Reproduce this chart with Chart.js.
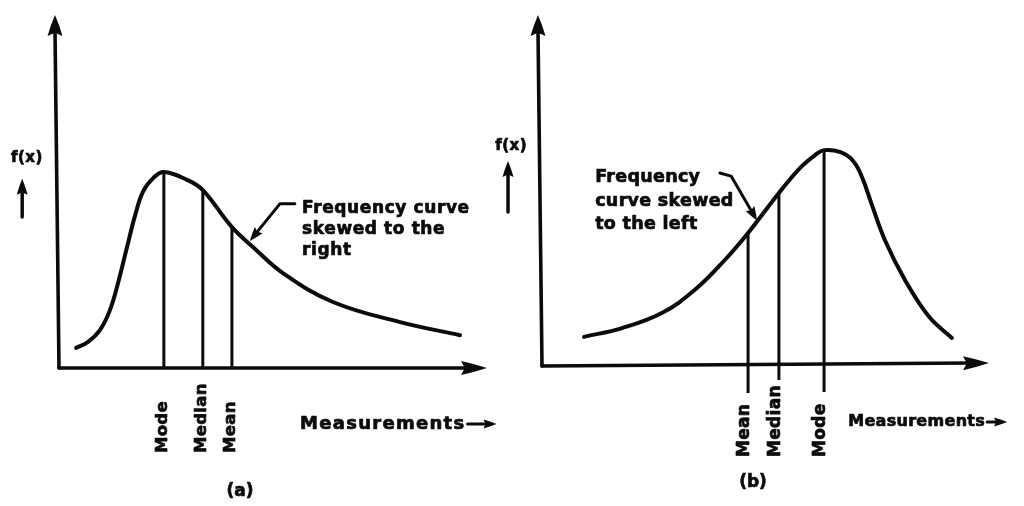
<!DOCTYPE html>
<html>
<head>
<meta charset="utf-8">
<title>Skewed frequency curves</title>
<script src="https://cdn.jsdelivr.net/npm/chart.js@4.4.0/dist/chart.umd.min.js"></script>
<style>
  html, body { margin: 0; padding: 0; background: #fff; }
  #wrap { position: relative; width: 1024px; height: 506px; overflow: hidden; }
  canvas { display: block; position: absolute; top: 0; }
  #panelA { left: 0; }
  #panelB { left: 460px; }
</style>
</head>
<body>
<div id="wrap">
  <canvas id="panelA" width="512" height="506"></canvas>
  <canvas id="panelB" width="564" height="506"></canvas>
</div>
<script>
// ---- (a) frequency curve skewed to the right ----
const rightSkewX = [4.0, 6.8, 9.6, 11.9, 13.8, 15.9, 17.8, 19.6, 22.0, 24.5, 29.9, 33.6, 40.4, 45.3, 52.3, 64.0, 79.7, 93.7];
const rightSkewY = [5.7, 7.4, 10.8, 16.4, 24.1, 34.3, 43.3, 49.9, 53.8, 55.5, 53.3, 50.4, 39.9, 34.3, 26.9, 18.7, 13.0, 9.3];
const rightSkewMarkers = ['Mode', 'Median', 'Mean'];
const rightSkewMarkerX = [24.5, 33.6, 40.4];
const rightSkewMarkerTop = [55.5, 50.4, 39.9];
const rightSkewMarkerBase = [0, 0, 0];

// ---- (b) frequency curve skewed to the left ----
const leftSkewX = [9.4, 17.9, 26.8, 34.2, 40.9, 46.1, 53.0, 57.7, 61.1, 63.1, 66.8, 69.6, 71.6, 73.8, 76.7, 81.2, 86.6, 91.7];
const leftSkewY = [8.3, 10.8, 15.1, 21.7, 30.2, 37.9, 49.3, 56.4, 60.1, 61.5, 60.9, 58.4, 53.8, 45.9, 35.9, 24.5, 14.0, 8.0];
const leftSkewMarkers = ['Mean', 'Median', 'Mode'];
const leftSkewMarkerX = [46.1, 53.0, 63.1];
const leftSkewMarkerTop = [37.9, 49.3, 61.5];
const leftSkewMarkerBase = [-7.7, -4.0, -7.4];

// ---- texts ----
const yAxisTitle = 'f(x)';
const xAxisTitle = 'Measurements';
const panelCaptions = ['(a)', '(b)'];
const rightSkewNote = ['Frequency curve', 'skewed to the', 'right'];
const leftSkewNote = ['Frequency', 'curve skewed', 'to the left'];

const FONT = '"DejaVu Sans", "Liberation Sans", Arial, sans-serif';
const INK = '#0b0b0b';

function arrowHead(ctx, tipX, tipY, angle, len, half) {
  ctx.save();
  ctx.translate(tipX, tipY);
  ctx.rotate(angle);
  ctx.beginPath();
  ctx.moveTo(0, 0);
  ctx.quadraticCurveTo(-len * 0.45, -half * 0.55, -len, -half);
  ctx.lineTo(-len * 0.85, 0);
  ctx.lineTo(-len, half);
  ctx.quadraticCurveTo(-len * 0.45, half * 0.55, 0, 0);
  ctx.closePath();
  ctx.fill();
  ctx.restore();
}

function spaced(ctx, px) {
  if ('letterSpacing' in ctx) ctx.letterSpacing = px + 'px';
}

// heavy ink text: fill plus a thin outline
function inkText(ctx, t, x, y) {
  ctx.save();
  ctx.lineWidth = 0.7;
  ctx.lineJoin = 'round';
  ctx.strokeText(t, x, y);
  ctx.fillText(t, x, y);
  ctx.restore();
}

// Hand-drawn style axes, labels and annotations on top of the datasets
const sketchPlugin = {
  id: 'sketch',
  afterDatasetsDraw(chart, args, o) {
    const ctx = chart.ctx;
    const xs = chart.scales.x, ys = chart.scales.y;
    const px = v => xs.getPixelForValue(v);
    const py = v => ys.getPixelForValue(v);
    const ox = px(0), oy = py(0);
    ctx.save();
    ctx.strokeStyle = INK;
    ctx.fillStyle = INK;
    ctx.lineCap = 'round';
    ctx.lineJoin = 'round';

    // x axis
    ctx.lineWidth = 3.6;
    ctx.beginPath();
    ctx.moveTo(ox, oy);
    ctx.lineTo(xs.right - 18, oy + o.tilt);
    ctx.stroke();
    arrowHead(ctx, xs.right, oy + o.tilt, Math.atan2(o.tilt, xs.right - ox), 26, 7);

    // y axis
    ctx.beginPath();
    ctx.moveTo(ox, oy);
    ctx.lineTo(ox + o.lean, ys.top + 16);
    ctx.stroke();
    arrowHead(ctx, ox + o.lean, ys.top, -Math.PI / 2, 21, 7.5);

    // y title with upward arrow
    ctx.font = `bold 15px ${FONT}`;
    ctx.textAlign = 'center';
    ctx.textBaseline = 'middle';
    spaced(ctx, 0.5);
    inkText(ctx, yAxisTitle, px(o.fx.x), py(o.fx.y));
    ctx.lineWidth = 3.5;
    ctx.beginPath();
    ctx.moveTo(px(o.fx.ax), py(o.fx.a0));
    ctx.lineTo(px(o.fx.ax), py(o.fx.a1) + 10);
    ctx.stroke();
    arrowHead(ctx, px(o.fx.ax), py(o.fx.a1), -Math.PI / 2, 16, 5.5);

    // rotated category labels under the axis
    ctx.font = `bold ${o.markerFont}px ${FONT}`;
    ctx.textAlign = 'left';
    ctx.textBaseline = 'middle';
    spaced(ctx, 0.3);
    o.markers.forEach((m, i) => {
      ctx.save();
      ctx.translate(px(o.markerX[i]) + o.markerNudge, oy + o.markerDrop);
      ctx.rotate(-Math.PI / 2);
      inkText(ctx, m, 0, 0);
      ctx.restore();
    });

    // x title followed by a small arrow
    ctx.font = `bold ${o.xTitle.font}px ${FONT}`;
    spaced(ctx, o.xTitle.spacing);
    const tx = px(o.xTitle.x), ty = oy + o.xTitle.drop;
    inkText(ctx, xAxisTitle, tx, ty);
    const tw = ctx.measureText(xAxisTitle).width;
    ctx.lineWidth = 3;
    ctx.beginPath();
    ctx.moveTo(tx + tw + 2, ty);
    ctx.lineTo(tx + tw + o.xTitle.arrow - 10, ty);
    ctx.stroke();
    arrowHead(ctx, tx + tw + o.xTitle.arrow, ty, 0, 13, 4.5);

    // annotation text and its leader arrow
    ctx.font = `bold ${o.note.font}px ${FONT}`;
    spaced(ctx, o.note.spacing);
    o.note.lines.forEach((t, i) => {
      inkText(ctx, t, px(o.note.x), py(o.note.y) + i * o.note.lh);
    });
    spaced(ctx, 0);
    const lp = o.note.leader.map(p => [px(p[0]), py(p[1])]);
    ctx.lineWidth = 3;
    ctx.beginPath();
    ctx.moveTo(lp[0][0], lp[0][1]);
    ctx.lineTo(lp[1][0], lp[1][1]);
    const dx = lp[2][0] - lp[1][0], dy = lp[2][1] - lp[1][1];
    const d = Math.hypot(dx, dy);
    ctx.lineTo(lp[2][0] - dx / d * 10, lp[2][1] - dy / d * 10);
    ctx.stroke();
    arrowHead(ctx, lp[2][0], lp[2][1], Math.atan2(dy, dx), 14, 5);

    // panel caption
    ctx.font = `bold 17px ${FONT}`;
    ctx.textAlign = 'center';
    inkText(ctx, o.caption, px(o.captionX), oy + o.captionDrop);
    ctx.restore();
  }
};

function buildPanel(id, xs, ysVals, markerX, markerTop, markerBase, padding, sketch) {
  const markerSets = markerX.map((x, i) => ({
    data: [{ x: x, y: markerBase[i] }, { x: x, y: markerTop[i] }],
    borderColor: INK,
    borderWidth: 3,
    pointRadius: 0,
    tension: 0,
    clip: false
  }));
  const curve = {
    data: xs.map((x, i) => ({ x: x, y: ysVals[i] })),
    borderColor: INK,
    borderWidth: 4,
    pointRadius: 0,
    tension: 0.4,
    borderCapStyle: 'round',
    borderJoinStyle: 'round',
    clip: false
  };
  return new Chart(document.getElementById(id), {
    type: 'line',
    data: { datasets: [...markerSets, curve] },
    options: {
      responsive: false,
      animation: false,
      events: [],
      layout: { padding: padding },
      scales: {
        x: { type: 'linear', min: 0, max: 100, display: false },
        y: { type: 'linear', min: 0, max: 100, display: false }
      },
      plugins: {
        legend: { display: false },
        tooltip: { enabled: false },
        sketch: sketch
      }
    },
    plugins: [sketchPlugin]
  });
}

buildPanel('panelA', rightSkewX, rightSkewY, rightSkewMarkerX, rightSkewMarkerTop, rightSkewMarkerBase,
  { left: 59, right: 25, top: 15, bottom: 138 },
  {
    tilt: 0, lean: -4,
    fx: { x: -7.5, y: 59.5, ax: -8.6, a0: 42.8, a1: 53.6 },
    markers: rightSkewMarkers, markerX: rightSkewMarkerX, markerNudge: -1,
    markerFont: 16.5, markerDrop: 85,
    xTitle: { x: 56.3, drop: 56, font: 18, spacing: 1.3, arrow: 31 },
    note: { lines: rightSkewNote, x: 56.8, y: 45.3, lh: 21, font: 17, spacing: 0.6,
            leader: [[55.1, 46.5], [51.6, 46.5], [44.6, 36.0]] },
    caption: panelCaptions[0], captionX: 42.3, captionDrop: 124
  });

buildPanel('panelB', leftSkewX, leftSkewY, leftSkewMarkerX, leftSkewMarkerTop, leftSkewMarkerBase,
  { left: 82, right: 35, top: 15, bottom: 140 },
  {
    tilt: -3, lean: -4,
    fx: { x: -6.9, y: 62.7, ax: -7.6, a0: 43.9, a1: 58.4 },
    markers: leftSkewMarkers, markerX: leftSkewMarkerX, markerNudge: -3,
    markerFont: 17, markerDrop: 91,
    xTitle: { x: 68.5, drop: 56, font: 16, spacing: 0.3, arrow: 22 },
    note: { lines: leftSkewNote, x: 11.9, y: 53.6, lh: 23.5, font: 17.5, spacing: 0.3,
            leader: [[39.8, 55.0], [42.3, 54.1], [48.1, 41.4]] },
    caption: panelCaptions[1], captionX: 47.2, captionDrop: 117
  });
</script>
</body>
</html>
